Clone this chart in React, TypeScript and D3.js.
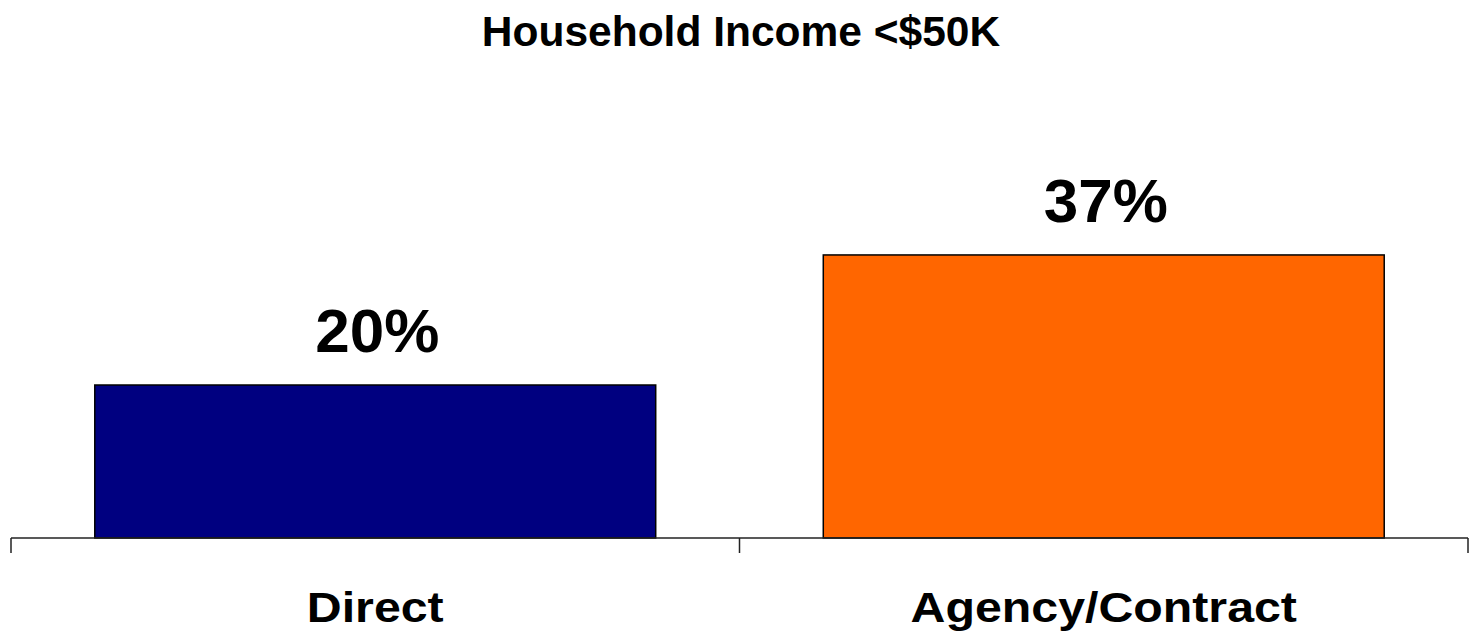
import React from "react";
import * as d3 from "d3";

const categories = ["Direct", "Agency/Contract"];
const values = [20, 37];
const barColors = ["#000080", "#FF6600"];
const title = "Household Income <$50K";

const W = 1469;
const H = 633;
const left = 11;
const right = 1468;
const baseline = 538;

export default function App() {
  const x = d3
    .scaleBand<string>()
    .domain(categories)
    .range([left, right])
    .paddingInner(0.23)
    .paddingOuter(0.115);
  const y = d3.scaleLinear().domain([0, 40]).range([baseline, baseline - 306]);
  const step = x.step();
  const tickXs = [left, left + step, right];
  const font = "'Liberation Sans', Arial, sans-serif";

  return (
    <svg
      width={W}
      height={H}
      style={{ position: "absolute", left: 0, top: 0, background: "#fff" }}
    >
      <text
        x={741}
        y={46}
        textAnchor="middle"
        fontFamily={font}
        fontWeight="bold"
        fontSize={42.5}
        fill="#000"
      >
        {title}
      </text>
      {categories.map((c, i) => {
        const cx = (x(c) as number) + x.bandwidth() / 2;
        return (
          <g key={c}>
            <rect
              x={x(c)}
              y={y(values[i])}
              width={x.bandwidth()}
              height={baseline - y(values[i])}
              fill={barColors[i]}
              stroke="#000"
              strokeWidth={1.5}
            />
            <text
              x={cx + 2}
              y={y(values[i]) - 33}
              textAnchor="middle"
              fontFamily={font}
              fontWeight="bold"
              fontSize={62}
              fill="#000"
            >
              {values[i]}%
            </text>
            <g transform={`translate(${cx},622) scale(1.15,1)`}>
              <text
                x={0}
                y={0}
                textAnchor="middle"
                fontFamily={font}
                fontWeight="bold"
                fontSize={42}
                fill="#000"
              >
                {c}
              </text>
            </g>
          </g>
        );
      })}
      <line x1={left} x2={right} y1={baseline} y2={baseline} stroke="#222" strokeWidth={1.5} />
      {tickXs.map((t, i) => (
        <line key={i} x1={t} x2={t} y1={baseline} y2={553} stroke="#222" strokeWidth={1.5} />
      ))}
    </svg>
  );
}
